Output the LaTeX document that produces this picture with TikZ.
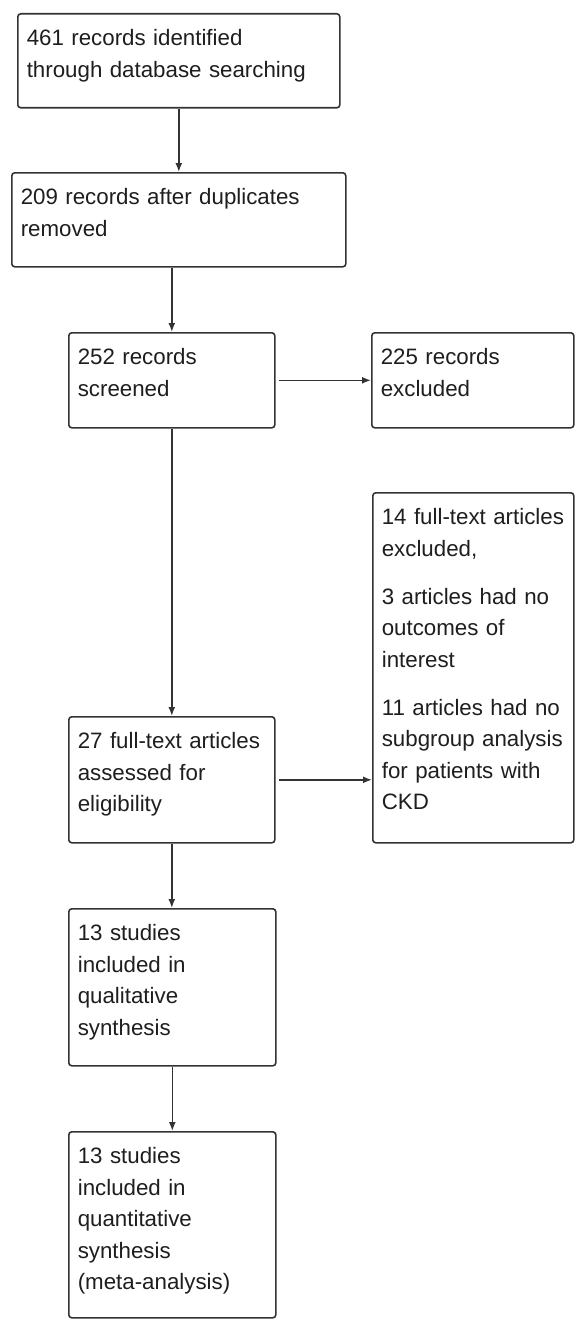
\documentclass[tikz,border=0pt]{standalone}
\usepackage{fontspec}
\setmainfont{Liberation Sans}
\usetikzlibrary{arrows.meta}
\definecolor{edge}{HTML}{333333}
\definecolor{ink}{HTML}{1E1E1E}
\begin{document}
\begin{tikzpicture}[x=1pt,y=-1pt,
  box/.style={draw=edge, line width=1.6pt, rounded corners=3pt, anchor=north west,
    inner xsep=9pt, inner ysep=0pt, text height=32pt, align=left, text=ink,
    font=\fontsize{22.3}{31.5}\selectfont},
  arr/.style={draw=edge, line width=1.6pt, -{Latex[length=9pt,width=7pt]}}]
\useasboundingbox[fill=white] (0,0) rectangle (575,1319);
\node[box, text width=304pt, text depth=62pt] (b1) at (17,13)
  {461 records identified\\through database searching};
\node[box, text width=316pt, text depth=62pt] (b2) at (11,172)
  {209 records after duplicates\\removed};
\node[box, text width=188pt, text depth=63pt] (b3) at (68,332)
  {252 records\\screened};
\node[box, text width=184pt, text depth=63pt] (b4) at (371,332)
  {225 records\\excluded};
\node[box, text width=183pt, text depth=318pt] (b5) at (372,492)
  {14 full-text articles\\excluded,\\[16.5pt]3 articles had no\\outcomes of\\interest\\[16.5pt]11 articles had no\\subgroup analysis\\for patients with\\CKD};
\node[box, text width=188pt, text depth=94pt] (b6) at (68,716)
  {27 full-text articles\\assessed for\\eligibility};
\node[box, text width=189pt, text depth=125pt] (b7) at (68,908)
  {13 studies\\included in\\qualitative\\synthesis};
\node[box, text width=189pt, text depth=154pt] (b8) at (68,1131)
  {13 studies\\included in\\quantitative\\synthesis\\(meta-analysis)};
\draw[arr] (b1.south) -- (b2.north);
\draw[arr] (b2.south -| b3.north) -- (b3.north);
\draw[arr, shorten <=3pt] (b3.east) -- (b4.west);
\draw[arr] (b3.south) -- (b6.north);
\draw[arr, shorten <=3pt] (b6.east) -- (b6.east -| b5.west);
\draw[arr] (b6.south) -- (b6.south |- b7.north);
\draw[arr] (b7.south) -- (b7.south |- b8.north);
\end{tikzpicture}
\end{document}
